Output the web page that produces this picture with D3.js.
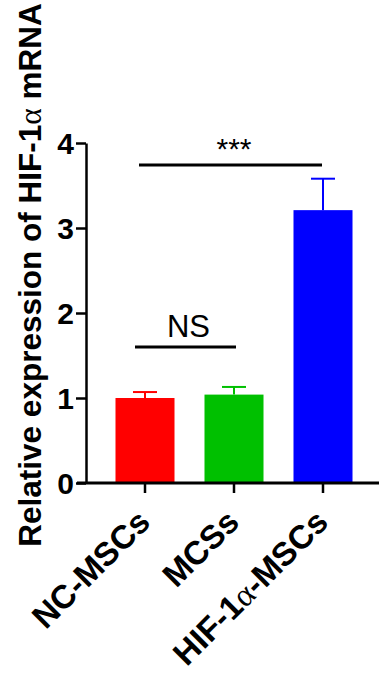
<!DOCTYPE html>
<html>
<head>
<meta charset="utf-8">
<script src="https://cdn.jsdelivr.net/npm/d3@7"></script>
<style>
  html, body { margin: 0; padding: 0; background: #fff; }
  svg { display: block; font-family: "Liberation Sans", Arial, sans-serif; }
</style>
</head>
<body>
<div id="chart"></div>
<script>
// groups and values (mean, upper error)
const categories = ['NC-MSCs', 'MCSs', 'HIF-1α-MSCs'];
const means = [1.0, 1.04, 3.21];
const errors = [0.07, 0.09, 0.37];
const colors = ['#ff0000', '#00c000', '#0000ff'];
const yTicks = [0, 1, 2, 3, 4];

// significance brackets
const sigFrom = ['NC-MSCs', 'NC-MSCs'];
const sigTo = ['HIF-1α-MSCs', 'MCSs'];
const sigLevel = [3.74, 1.6];
const sigLabel = ['***', 'NS'];

const width = 379;
const height = 673;

const svg = d3.select('#chart')
  .append('svg')
  .attr('width', width)
  .attr('height', height);

const y = d3.scaleLinear().domain([0, 4]).range([483, 143]);

const x = d3.scaleBand()
  .domain(categories)
  .range([100.5, 367.5])
  .paddingInner(0.337)
  .paddingOuter(0.1685);

const cx = (d) => x(d) + x.bandwidth() / 2;

// mixed font: greek alpha drawn in a serif face like the original
function withAlpha(sel, str) {
  str.split('α').forEach((p, k) => {
    if (k > 0) {
      sel.append('tspan')
        .style('font-family', '"Liberation Serif", "DejaVu Serif", serif')
        .style('font-weight', 'normal')
        .text('α');
    }
    sel.append('tspan').text(p);
  });
}

// bars
svg.selectAll('.bar')
  .data(categories)
  .enter()
  .append('rect')
  .attr('class', 'bar')
  .attr('x', (d) => x(d))
  .attr('y', (d, i) => y(means[i]))
  .attr('width', x.bandwidth())
  .attr('height', (d, i) => y(0) - y(means[i]))
  .attr('fill', (d, i) => colors[i]);

// error bars (upper only)
const err = svg.selectAll('.err')
  .data(categories)
  .enter()
  .append('g')
  .attr('class', 'err')
  .attr('stroke', (d, i) => colors[i])
  .attr('stroke-width', 2);

err.append('line')
  .attr('x1', cx).attr('x2', cx)
  .attr('y1', (d, i) => y(means[i]))
  .attr('y2', (d, i) => y(means[i] + errors[i]));

err.append('line')
  .attr('x1', (d) => cx(d) - 12).attr('x2', (d) => cx(d) + 12)
  .attr('y1', (d, i) => y(means[i] + errors[i]))
  .attr('y2', (d, i) => y(means[i] + errors[i]));

// y axis
const yAxis = svg.append('g')
  .attr('transform', 'translate(86,0)')
  .call(d3.axisLeft(y).tickValues(yTicks).tickFormat(d3.format('d')).tickSize(10).tickSizeOuter(0).tickPadding(2));

yAxis.select('.domain').attr('stroke', '#000').attr('stroke-width', 2.5);
yAxis.selectAll('.tick line').attr('stroke', '#000').attr('stroke-width', 2.5);
yAxis.selectAll('.tick text')
  .attr('fill', '#000')
  .style('font-family', '"Liberation Sans", Arial, sans-serif')
  .style('font-size', '30px')
  .style('font-weight', 'bold')
  .attr('dy', '0.36em');

// x axis
const xAxis = svg.append('g')
  .attr('transform', `translate(0,${y(0)})`)
  .call(d3.axisBottom(x).tickSize(10).tickSizeOuter(0).tickFormat(''));

xAxis.select('.domain').remove();
xAxis.selectAll('.tick line').attr('stroke', '#000').attr('stroke-width', 2.5);
xAxis.append('line')
  .attr('x1', 77).attr('x2', width)
  .attr('y1', 0).attr('y2', 0)
  .attr('stroke', '#000')
  .attr('stroke-width', 3);

// rotated category labels
svg.selectAll('.xlab')
  .data(categories)
  .enter()
  .append('text')
  .attr('class', 'xlab')
  .attr('transform', (d) => `translate(${cx(d) + 7},${y(0) + 41}) rotate(-45)`)
  .attr('text-anchor', 'end')
  .style('font-size', '33px')
  .style('font-weight', 'bold')
  .each(function (d) { withAlpha(d3.select(this), d); });

// y axis title
const title = svg.append('text')
  .attr('transform', 'translate(41,275) rotate(-90)')
  .attr('text-anchor', 'middle')
  .style('font-size', '31.5px')
  .style('font-weight', 'bold');
withAlpha(title, 'Relative expression of HIF-1α mRNA');

// significance lines
const offsets = [[-6, -1], [-10, 2]];
svg.selectAll('.sig')
  .data(sigLabel)
  .enter()
  .append('line')
  .attr('class', 'sig')
  .attr('x1', (d, i) => cx(sigFrom[i]) + offsets[i][0])
  .attr('x2', (d, i) => cx(sigTo[i]) + offsets[i][1])
  .attr('y1', (d, i) => y(sigLevel[i]))
  .attr('y2', (d, i) => y(sigLevel[i]))
  .attr('stroke', '#000')
  .attr('stroke-width', 3);

svg.selectAll('.siglab')
  .data(sigLabel)
  .enter()
  .append('text')
  .attr('class', 'siglab')
  .attr('x', (d, i) => (cx(sigFrom[i]) + cx(sigTo[i])) / 2 + (i === 1 ? -1 : 0))
  .attr('y', (d, i) => y(sigLevel[i]) - (i === 0 ? 6 : 10))
  .attr('text-anchor', 'middle')
  .style('font-size', (d, i) => (i === 0 ? '30px' : '31px'))
  .text((d) => d);
</script>
</body>
</html>
